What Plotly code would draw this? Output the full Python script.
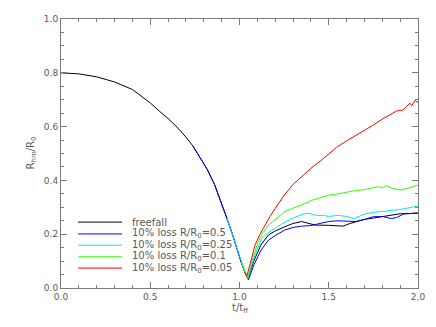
import plotly.graph_objects as go

# ---- data ----
ff_t = [0.0, 0.1, 0.2, 0.3, 0.4, 0.5, 0.55, 0.6, 0.65, 0.7, 0.74, 0.78, 0.82, 0.86, 0.9,
        0.93, 0.96, 0.99, 1.01, 1.03, 1.048, 1.08, 1.12, 1.162, 1.2, 1.255, 1.3, 1.348,
        1.38, 1.423, 1.5, 1.58, 1.62, 1.66, 1.7, 1.75, 1.8, 1.85, 1.9, 1.95, 2.0]
ff_R = [0.800, 0.796, 0.785, 0.766, 0.738, 0.688, 0.658, 0.630, 0.598, 0.561, 0.527, 0.486,
        0.440, 0.385, 0.315, 0.258, 0.200, 0.135, 0.095, 0.060, 0.035, 0.100, 0.160, 0.197,
        0.212, 0.228, 0.240, 0.247, 0.242, 0.234, 0.233, 0.230, 0.240, 0.247, 0.255, 0.260,
        0.266, 0.272, 0.276, 0.277, 0.278]

b_t = [0.74, 0.78, 0.82, 0.86, 0.9, 0.93, 0.96, 0.99, 1.01, 1.03, 1.05, 1.08, 1.12, 1.162,
       1.2, 1.255, 1.3, 1.348, 1.4, 1.45, 1.5, 1.55, 1.6, 1.65, 1.7, 1.75, 1.8, 1.85, 1.88,
       1.92, 1.96, 2.0]
b_R = [0.527, 0.486, 0.440, 0.385, 0.315, 0.258, 0.200, 0.135, 0.095, 0.058, 0.030, 0.085,
       0.140, 0.178, 0.195, 0.216, 0.225, 0.230, 0.232, 0.240, 0.247, 0.250, 0.248, 0.247,
       0.255, 0.265, 0.266, 0.258, 0.262, 0.275, 0.277, 0.279]

c_t = [0.93, 0.96, 0.99, 1.01, 1.03, 1.047, 1.08, 1.124, 1.16, 1.2, 1.25, 1.3, 1.34, 1.37,
       1.4, 1.43, 1.47, 1.5, 1.55, 1.6, 1.64, 1.7, 1.75, 1.8, 1.85, 1.9, 1.95, 2.0]
c_R = [0.258, 0.200, 0.135, 0.095, 0.060, 0.035, 0.110, 0.185, 0.205, 0.222, 0.243, 0.260,
       0.270, 0.278, 0.276, 0.270, 0.270, 0.266, 0.270, 0.266, 0.258, 0.275, 0.281, 0.284,
       0.288, 0.292, 0.298, 0.305]

g_t = [1.01, 1.03, 1.045, 1.075, 1.105, 1.13, 1.162, 1.2, 1.255, 1.3, 1.348, 1.4, 1.45, 1.5,
       1.55, 1.6, 1.65, 1.7, 1.75, 1.78, 1.8, 1.82, 1.85, 1.88, 1.9, 1.95, 2.0]
g_R = [0.095, 0.060, 0.040, 0.110, 0.172, 0.205, 0.234, 0.255, 0.284, 0.297, 0.309, 0.325,
       0.336, 0.345, 0.350, 0.357, 0.362, 0.366, 0.372, 0.377, 0.372, 0.381, 0.372, 0.366,
       0.364, 0.372, 0.383]

r_t = [1.03, 1.04, 1.06, 1.087, 1.115, 1.143, 1.17, 1.2, 1.25, 1.3, 1.35, 1.4, 1.46, 1.5,
       1.544, 1.6, 1.657, 1.7, 1.75, 1.8, 1.862, 1.88, 1.9, 1.918, 1.935, 1.955, 1.965,
       1.983, 2.0]
r_R = [0.060, 0.042, 0.090, 0.160, 0.200, 0.234, 0.265, 0.296, 0.345, 0.385, 0.415, 0.445,
       0.476, 0.500, 0.523, 0.547, 0.569, 0.587, 0.606, 0.628, 0.653, 0.658, 0.660, 0.662,
       0.675, 0.687, 0.678, 0.697, 0.690]

names = ["freefall",
         "10% loss R/R<sub>0</sub>=0.5",
         "10% loss R/R<sub>0</sub>=0.25",
         "10% loss R/R<sub>0</sub>=0.1",
         "10% loss R/R<sub>0</sub>=0.05"]
colors = ["#000000", "#0000ff", "#00e5ff", "#33ff00", "#ff0000"]
series = [(ff_t, ff_R), (b_t, b_R), (c_t, c_R), (g_t, g_R), (r_t, r_R)]

x_ticks = [0.0, 0.5, 1.0, 1.5, 2.0]
y_ticks = [0.0, 0.2, 0.4, 0.6, 0.8, 1.0]

fig = go.Figure()
for (t, r), nm, col in zip(series, names, colors):
    fig.add_trace(go.Scatter(x=t, y=r, mode="lines", name=nm,
                             line=dict(color=col, width=1), showlegend=False))

txt = "#5a5a5a"
axcol = "#7a7a7a"
font = dict(family="DejaVu Sans", size=9, color=txt)
font_big = dict(family="DejaVu Sans", size=10, color=txt)

common = dict(showline=True, linecolor=axcol, linewidth=1, mirror="ticks",
              ticks="inside", ticklen=6, tickcolor=axcol, tickwidth=1,
              showgrid=False, zeroline=False, tickfont=font, tickformat=".1f")

fig.update_xaxes(range=[0, 2], tickvals=x_ticks,
                 minor=dict(dtick=0.1, ticks="inside", ticklen=3, tickcolor=axcol, showgrid=False),
                 **common)
fig.update_yaxes(range=[0, 1], tickvals=y_ticks,
                 minor=dict(dtick=0.05, ticks="inside", ticklen=3, tickcolor=axcol, showgrid=False),
                 **common)

# manual legend (key lines + labels)
leg_y = [0.245, 0.201, 0.159, 0.116, 0.074]
shapes = []
annots = []
for yy, nm, col in zip(leg_y, names, colors):
    shapes.append(dict(type="line", xref="paper", yref="paper", x0=0.048, x1=0.171,
                       y0=yy, y1=yy, line=dict(color=col, width=1)))
    annots.append(dict(xref="paper", yref="paper", x=0.192, y=yy, text=nm, showarrow=False,
                       xanchor="left", yanchor="middle", font=font_big))

annots.append(dict(xref="paper", yref="paper", x=0.5, y=-0.078, text="t/t<sub>ff</sub>",
                   showarrow=False, xanchor="center", yanchor="middle", font=font_big))
annots.append(dict(xref="paper", yref="paper", x=-0.084, y=0.5, text="R<sub>hm</sub>/R<sub>0</sub>",
                   showarrow=False, xanchor="center", yanchor="middle", textangle=-90, font=font_big))

fig.update_layout(width=436, height=327, margin=dict(l=61, r=18, t=19, b=39),
                  paper_bgcolor="white", plot_bgcolor="white",
                  shapes=shapes, annotations=annots, showlegend=False, font=font)

fig.write_html("out.html", config={"displayModeBar": False},
               post_script="document.body.style.margin='0';document.body.style.padding='0';")
